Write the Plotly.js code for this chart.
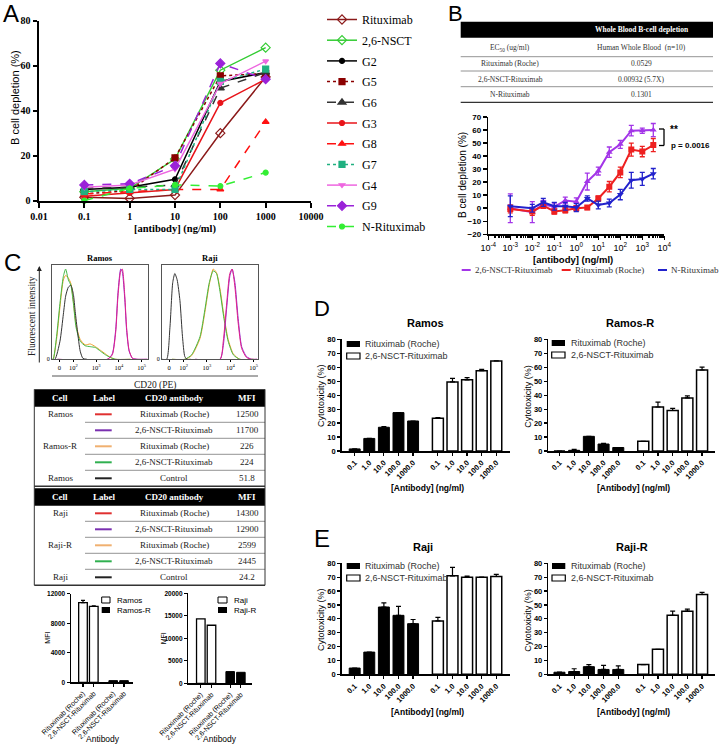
<!DOCTYPE html>
<html><head><meta charset="utf-8">
<script src="https://cdn.plot.ly/plotly-3.0.1.min.js"></script>
<style>html,body{margin:0;padding:0;background:#fff}#chart{width:722px;height:746px}</style>
</head><body><div id="chart"></div>
<script>
// ================= DATA =================
// Panel A
const aDoses = [0.1, 1, 10, 100, 1000];
const aTickVals = [0.01, 0.1, 1, 10, 100, 1000, 10000];
const aTickText = ['0.01', '0.1', '1', '10', '100', '1000', '10000'];
const aNames = ['Rituximab', '2,6-NSCT', 'G2', 'G5', 'G6', 'G3', 'G8', 'G7', 'G4', 'G9', 'N-Rituximab'];
const aRituximab = [1.5, 1, 2.5, 30, 55];
const aNSCT = [4, 5.5, 18.5, 58, 68];
const aG2 = [5, 6, 9.5, 53, 57];
const aG5 = [3, 4.5, 19, 55.5, 56.5];
const aG6 = [5.5, 6, 7, 50, 57];
const aG3 = [2, 3.5, 5, 43.5, 54];
const aG8 = [3, 4, 5, 5, 35];
const aG7 = [4, 5, 5, 53, 58.5];
const aG4 = [6, 7, 14, 52, 62];
const aG9 = [7, 7.5, 15.5, 61, 54];
const aNRituximab = [0, 5.5, 7, 6.5, 12.5];

// Panel B
const bDoses = [0.001, 0.01, 0.0316, 0.1, 0.316, 1, 3.16, 10, 31.6, 100, 316, 1000, 3162];
const bTickVals = [1e-4, 1e-3, 1e-2, 1e-1, 1, 10, 100, 1000, 10000];
const bTickText = ['10<sup>-4</sup>', '10<sup>-3</sup>', '10<sup>-2</sup>', '10<sup>-1</sup>', '10<sup>0</sup>', '10<sup>1</sup>', '10<sup>2</sup>', '10<sup>3</sup>', '10<sup>4</sup>'];
const bNames = ['2,6-NSCT-Rituximab', 'Rituximab (Roche)', 'N-Rituximab'];
const bNSCT = [0, -3, 3, 1, 6, 5, 20.5, 28.5, 43, 49, 59.5, 59.5, 60];
const bNSCTErr = [11, 8, 3, 3, 2.5, 3, 6.5, 3, 4, 3, 4, 2, 5];
const bRoche = [-0.5, -2.5, 2, -2.5, -1.5, 0, 0.5, 7.5, 16.5, 27.5, 45, 43.5, 48.5];
const bRocheErr = [3, 3, 2, 2, 2, 2, 1.5, 2, 4, 4, 5, 4, 5];
const bNRit = [1.5, 0, 4.5, 1.5, 1.5, 0.5, 7.5, 2.5, 4, 10.5, 21.5, 22.5, 26.5];
const bNRitErr = [8, 3, 3, 3, 3, 3, 2, 3, 3, 4, 6, 5, 4];
const bTableHeader = 'Whole Blood B-cell depletion';
const bTableSub = ['EC<sub>50</sub> (ug/ml)', 'Human Whole Blood  (n=10)'];
const bTableRows = ['Rituximab (Roche)', '2,6-NSCT-Rituximab', 'N-Rituximab'];
const bTableEC50 = ['0.0529', '0.00932 (5.7X)', '0.1301'];

// Panel C histograms (x in display decades, y in % of max)
const histTickVals = [1.38, 2, 3, 4, 5];
const histTickText = ['0', '10<sup>2</sup>', '10<sup>3</sup>', '10<sup>4</sup>', '10<sup>5</sup>'];
const ramosCtrlX = [1.05, 1.19, 1.41, 1.56, 1.66, 1.78, 1.89, 2.0, 2.08, 2.18, 2.3, 2.42, 2.6];
const ramosCtrlY = [0, 0, 20, 50, 70, 80, 82, 72, 53, 31, 9, 1, 0];
const ramosResX = [1.05, 1.11, 1.26, 1.41, 1.56, 1.66, 1.78, 1.89, 2.0, 2.12, 2.3, 2.52, 2.74, 2.97, 3.19, 3.41, 3.63, 3.86, 4.5];
const ramosResNsctY = [0, 0, 25, 62, 92, 100, 88, 82, 62, 35, 20, 15, 14, 13, 9, 5, 2, 0, 0];
const ramosResRocheY = [0, 0, 22, 58, 88, 93, 90, 84, 64, 38, 22, 16, 17, 14, 10, 6, 2, 0, 0];
const ramosX = [1.3, 3.49, 3.71, 3.86, 3.96, 4.08, 4.15, 4.26, 4.34, 4.45, 4.6, 4.82, 5.25];
const ramosRocheY = [0, 0, 5, 30, 70, 98, 100, 70, 35, 10, 1, 0, 0];
const ramosNsctY = [0, 0, 6, 33, 74, 100, 97, 66, 32, 9, 1, 0, 0];
const rajiCtrlX = [1.07, 1.27, 1.41, 1.53, 1.62, 1.72, 1.84, 1.95, 2.05, 2.15, 2.3];
const rajiCtrlY = [0, 0, 35, 85, 95, 88, 65, 25, 3, 0, 0];
const rajiResX = [1.5, 2.05, 2.34, 2.7, 2.91, 3.1, 3.27, 3.41, 3.56, 3.73, 3.91, 4.13, 4.41, 5.0];
const rajiResNsctY = [0, 0, 5, 25, 55, 85, 98, 95, 75, 45, 20, 5, 0, 0];
const rajiResRocheY = [0, 0, 4, 23, 52, 83, 100, 96, 78, 48, 22, 6, 0, 0];
const rajiX = [2.5, 3.56, 3.7, 3.84, 3.98, 4.08, 4.2, 4.34, 4.49, 4.7, 4.92, 5.15];
const rajiRocheY = [0, 0, 20, 60, 95, 100, 80, 40, 12, 2, 0, 0];
const rajiNsctY = [0, 0, 15, 55, 92, 100, 85, 45, 14, 3, 0, 0];

// Panel C tables
const cTableHeader = ['Cell', 'Label', 'CD20 antibody', 'MFI'];
const cTable1Cell = ['Ramos', '', 'Ramos-R', '', 'Ramos'];
const cTable2Cell = ['Raji', '', 'Raji-R', '', 'Raji'];
const cAntibody = ['Rituximab (Roche)', '2,6-NSCT-Rituximab', 'Rituximab (Roche)', '2,6-NSCT-Rituximab', 'Control'];
const cTable1MFI = ['12500', '11700', '226', '224', '51.8'];
const cTable2MFI = ['14300', '12900', '2599', '2445', '24.2'];

// Panel C MFI bars
const cBarLabels = ['Rituximab (Roche)', '2,6-NSCT-Rituximab', 'Rituximab (Roche)', '2,6-NSCT-Rituximab'];
const mfiRamos = [10800, 10300];
const mfiRamosErr = [300, 80];
const mfiRamosR = [226, 224];
const mfiRaji = [14300, 12900];
const mfiRajiR = [2599, 2445];
const mfiTicksL = [0, 4000, 8000, 12000];
const mfiTicksR = [0, 5000, 10000, 15000, 20000];

// Panels D/E cytotoxicity
const cytoDoses = ['0.1', '1.0', '10.0', '100.0', '1000.0'];
const cytoSeries = ['Rituximab (Roche)', '2,6-NSCT-Rituximab'];
const ramosRoche = [1.5, 9, 17, 27.5, 21.5];
const ramosRocheErr = [0, 0, 0.5, 0, 0];
const ramosNsct = [23.5, 49.5, 51, 57.5, 64.5];
const ramosNsctErr = [0.5, 2.5, 1.5, 1, 0];
const ramosRRoche = [0, 0.5, 10.5, 5, 2.5];
const ramosRRocheErr = [0, 0.7, 0, 0.5, 0];
const ramosRNsct = [7, 31.5, 29, 38, 58];
const ramosRNsctErr = [0, 3.5, 1.5, 1.5, 2];
const rajiRoche = [4.5, 16, 48.5, 42.5, 36.5];
const rajiRocheErr = [0, 0, 3, 6.5, 3];
const rajiNsct = [38.5, 71, 70, 70, 70.5];
const rajiNsctErr = [2.5, 6, 0.7, 0, 1.5];
const rajiRRoche = [1.5, 2, 5.5, 3.5, 3.5];
const rajiRRocheErr = [0, 2, 1.5, 3, 2.5];
const rajiRNsct = [7, 18, 42.5, 45.5, 57.5];
const rajiRNsctErr = [0, 0, 3, 1.5, 1.5];

// ================= LAYOUT HELPERS =================
const SERIF = 'Liberation Serif, Times New Roman, serif';
const SANS = 'Liberation Sans, Arial, sans-serif';
const W = 722, H = 746;
const fx = p => p / W;
const fy = p => 1 - p / H;
const annotations = [];
const shapes = [];
function T(text, x, y, size, o = {}) {
  annotations.push({
    text, x: fx(x), y: fy(y), xref: 'paper', yref: 'paper', showarrow: false,
    xanchor: o.xanchor || 'center', yanchor: 'middle', textangle: o.angle || 0,
    font: { family: o.family || SANS, size, color: o.color || '#000', weight: o.weight || 'normal' }
  });
}
function L(x0, y0, x1, y1, color, width) {
  shapes.push({ type: 'line', xref: 'paper', yref: 'paper', x0: fx(x0), y0: fy(y0), x1: fx(x1), y1: fy(y1), line: { color, width } });
}
function R(x0, y0, x1, y1, fill, lc, lw) {
  shapes.push({ type: 'rect', xref: 'paper', yref: 'paper', x0: fx(x0), y0: fy(y0), x1: fx(x1), y1: fy(y1), fillcolor: fill, line: { color: lc || fill, width: lw || 0 } });
}
const zeros = n => new Array(n).fill(0);

// ================= TRACES =================
const data = [];
// Panel A
const aSeries = [aRituximab, aNSCT, aG2, aG5, aG6, aG3, aG8, aG7, aG4, aG9, aNRituximab];
const aStyle = [
  { c: '#8b1a1a', s: 'diamond-open', d: 'solid', z: 7 },
  { c: '#33cc33', s: 'diamond-open', d: 'solid', z: 7 },
  { c: '#000000', s: 'circle', d: 'solid', z: 5 },
  { c: '#8b0000', s: 'square', d: 'dot', z: 6 },
  { c: '#333333', s: 'triangle-up', d: 'dash', z: 7 },
  { c: '#e8141a', s: 'circle', d: 'solid', z: 5 },
  { c: '#ff1010', s: 'triangle-up', d: 'dash', z: 6 },
  { c: '#20b080', s: 'square', d: 'dot', z: 6 },
  { c: '#ee66e0', s: 'triangle-down', d: 'solid', z: 5 },
  { c: '#9a22d8', s: 'diamond', d: 'dash', z: 7 },
  { c: '#33ee33', s: 'circle', d: 'dash', z: 5 }
];
aSeries.forEach((ys, i) => {
  const st = aStyle[i];
  data.push({
    type: 'scatter', mode: 'lines+markers', name: aNames[i], x: aDoses, y: ys, xaxis: 'x', yaxis: 'y',
    legendgroup: 'g' + i, cliponaxis: false,
    line: { color: st.c, width: 1.5, dash: st.d },
    marker: { color: st.c, symbol: st.s, size: st.z, line: { color: st.c, width: 1.2 } }
  });
});
// Panel B
const bSeries = [[bNSCT, bNSCTErr, '#a335e8', 'triangle-up'], [bRoche, bRocheErr, '#ee2020', 'square'], [bNRit, bNRitErr, '#2222cc', 'triangle-down']];
bSeries.forEach((s, i) => {
  data.push({
    type: 'scatter', mode: 'lines+markers', name: bNames[i], x: bDoses, y: s[0], xaxis: 'x2', yaxis: 'y2', showlegend: false,
    line: { color: s[2], width: 2 }, marker: { color: s[2], symbol: s[3], size: 6 },
    error_y: { type: 'data', array: s[1], color: s[2], thickness: 1.3, width: 2.5 }
  });
});
// Panel C histograms
function hist(x, y, color, ax) {
  data.push({ type: 'scatter', mode: 'lines', x, y, xaxis: 'x' + ax, yaxis: 'y' + ax, showlegend: false,
    line: { color, width: 1, shape: 'spline', smoothing: 0.6 } });
}
hist(ramosResX, ramosResRocheY, '#f0a030', 3);
hist(ramosResX, ramosResNsctY, '#44b844', 3);
hist(ramosCtrlX, ramosCtrlY, '#333333', 3);
hist(ramosX, ramosNsctY, '#9030d0', 3);
hist(ramosX, ramosRocheY, '#e0208a', 3);
hist(rajiResX, rajiResRocheY, '#f0a030', 4);
hist(rajiResX, rajiResNsctY, '#44b844', 4);
hist(rajiCtrlX, rajiCtrlY, '#333333', 4);
hist(rajiX, rajiNsctY, '#9030d0', 4);
hist(rajiX, rajiRocheY, '#e0208a', 4);
// Panel C MFI bars
const mfiPosL = [0, 1, 2.8, 3.8];
const mfiPosR = [0, 1, 2.75, 3.75];
data.push({ type: 'bar', x: mfiPosL.slice(0, 2), y: mfiRamos, xaxis: 'x5', yaxis: 'y5', width: 0.8, showlegend: false,
  marker: { color: '#fff', line: { color: '#000', width: 1.3 } },
  error_y: { type: 'data', symmetric: false, array: mfiRamosErr, arrayminus: zeros(2), color: '#000', thickness: 1.2, width: 2 } });
data.push({ type: 'bar', x: mfiPosL.slice(2), y: mfiRamosR, xaxis: 'x5', yaxis: 'y5', width: 0.8, showlegend: false,
  marker: { color: '#000', line: { color: '#000', width: 1 } } });
data.push({ type: 'bar', x: mfiPosR.slice(0, 2), y: mfiRaji, xaxis: 'x6', yaxis: 'y6', width: 0.8, showlegend: false,
  marker: { color: '#fff', line: { color: '#000', width: 1.3 } } });
data.push({ type: 'bar', x: mfiPosR.slice(2), y: mfiRajiR, xaxis: 'x6', yaxis: 'y6', width: 0.8, showlegend: false,
  marker: { color: '#000', line: { color: '#000', width: 1 } } });
// Panels D/E
const blackX = cytoDoses.map((_, i) => i);
const whiteX = cytoDoses.map((_, i) => i + 5.7);
function cyto(ax, blackY, blackE, whiteY, whiteE) {
  data.push({ type: 'bar', name: cytoSeries[0], x: blackX, y: blackY, xaxis: 'x' + ax, yaxis: 'y' + ax, width: 0.75, showlegend: false,
    marker: { color: '#000', line: { color: '#000', width: 1 } },
    error_y: { type: 'data', symmetric: false, array: blackE, arrayminus: zeros(5), color: '#000', thickness: 1.2, width: 2.5 } });
  data.push({ type: 'bar', name: cytoSeries[1], x: whiteX, y: whiteY, xaxis: 'x' + ax, yaxis: 'y' + ax, width: 0.75, showlegend: false,
    marker: { color: '#fff', line: { color: '#000', width: 1.5 } },
    error_y: { type: 'data', symmetric: false, array: whiteE, arrayminus: zeros(5), color: '#000', thickness: 1.2, width: 2.5 } });
}
cyto(7, ramosRoche, ramosRocheErr, ramosNsct, ramosNsctErr);
cyto(8, ramosRRoche, ramosRRocheErr, ramosRNsct, ramosRNsctErr);
cyto(9, rajiRoche, rajiRocheErr, rajiNsct, rajiNsctErr);
cyto(10, rajiRRoche, rajiRRocheErr, rajiRNsct, rajiRNsctErr);

// ================= AXES =================
const base = { showgrid: false, zeroline: false, showline: true, linecolor: '#000', ticks: 'outside', tickcolor: '#000', automargin: false, fixedrange: true };
const layout = {
  width: W, height: H, margin: { l: 0, r: 0, t: 0, b: 0, pad: 0 },
  font: { family: SANS, color: '#000' },
  paper_bgcolor: '#fff', plot_bgcolor: 'rgba(0,0,0,0)', barmode: 'overlay', showlegend: true,
  legend: { x: fx(322), y: fy(5), xanchor: 'left', yanchor: 'top', font: { family: SERIF, size: 12, color: '#000' },
    tracegroupgap: 1.7, itemwidth: 30, bgcolor: 'rgba(0,0,0,0)', borderwidth: 0 },
  xaxis: Object.assign({}, base, { domain: [fx(39), fx(311)], anchor: 'y', type: 'log', range: [-2, 4], tickvals: aTickVals, ticktext: aTickText,
    linewidth: 2.5, tickwidth: 2, ticklen: 5, tickfont: { family: SERIF, size: 10, weight: 'bold', color: '#000' } }),
  yaxis: Object.assign({}, base, { domain: [fy(200.7), fy(20.7)], anchor: 'x', range: [0, 80], tickvals: [0, 20, 40, 60, 80],
    linewidth: 2.5, tickwidth: 2, ticklen: 4, tickfont: { family: SERIF, size: 10, weight: 'bold', color: '#000' } }),
  xaxis2: Object.assign({}, base, { domain: [fx(488.3), fx(664.3)], anchor: 'y2', type: 'log', range: [-4, 4], tickvals: bTickVals, ticktext: bTickText,
    linewidth: 1.5, tickwidth: 1.5, ticklen: 4, tickfont: { family: SANS, size: 9, color: '#000' },
    minor: { ticks: 'outside', ticklen: 2, tickcolor: '#000', dtick: 'D1', showgrid: false } }),
  yaxis2: Object.assign({}, base, { domain: [fy(234.3), fy(117)], anchor: 'x2', range: [-20, 70], dtick: 10,
    linewidth: 1.5, tickwidth: 1.5, ticklen: 4, tickfont: { family: SANS, size: 8, weight: 'bold', color: '#000' } }),
  xaxis3: Object.assign({}, base, { domain: [fx(52), fx(148)], anchor: 'y3', range: [1.06, 5.28], tickvals: histTickVals, ticktext: histTickText,
    mirror: true, linecolor: '#555', linewidth: 1, tickwidth: 1, ticklen: 2, tickfont: { family: SERIF, size: 6.5, color: '#000' } }),
  yaxis3: Object.assign({}, base, { domain: [fy(359.3), fy(265)], anchor: 'x3', range: [0, 104.5], tickvals: [0], ticktext: ['0'],
    mirror: true, linecolor: '#555', linewidth: 1, ticks: '', tickfont: { family: SERIF, size: 6, color: '#000' } }),
  xaxis4: Object.assign({}, base, { domain: [fx(162), fx(258)], anchor: 'y4', range: [1.07, 5.19], tickvals: histTickVals, ticktext: histTickText,
    mirror: true, linecolor: '#555', linewidth: 1, tickwidth: 1, ticklen: 2, tickfont: { family: SERIF, size: 6.5, color: '#000' } }),
  yaxis4: Object.assign({}, base, { domain: [fy(359.3), fy(265)], anchor: 'x4', range: [0, 104.5], tickvals: [0], ticktext: ['0'],
    mirror: true, linecolor: '#555', linewidth: 1, ticks: '', tickfont: { family: SERIF, size: 6, color: '#000' } }),
  xaxis5: Object.assign({}, base, { domain: [fx(71), fx(133.3)], anchor: 'y5', range: [-1.11, 4.66], tickvals: mfiPosL, ticktext: cBarLabels, tickangle: -45,
    linewidth: 1.5, tickwidth: 1.2, ticklen: 3, tickfont: { family: SANS, size: 7, color: '#000' } }),
  yaxis5: Object.assign({}, base, { domain: [fy(682.3), fy(593.8)], anchor: 'x5', range: [0, 12000], tickvals: mfiTicksL, ticktext: mfiTicksL.map(String),
    linewidth: 1.5, tickwidth: 1.2, ticklen: 3, tickfont: { family: SANS, size: 6.5, weight: 'bold', color: '#000' } }),
  xaxis6: Object.assign({}, base, { domain: [fx(188.3), fx(252)], anchor: 'y6', range: [-1.17, 4.79], tickvals: mfiPosR, ticktext: cBarLabels, tickangle: -45,
    linewidth: 1.5, tickwidth: 1.2, ticklen: 3, tickfont: { family: SANS, size: 7, color: '#000' } }),
  yaxis6: Object.assign({}, base, { domain: [fy(683.3), fy(593.3)], anchor: 'x6', range: [0, 20000], tickvals: mfiTicksR, ticktext: mfiTicksR.map(String),
    linewidth: 1.5, tickwidth: 1.2, ticklen: 3, tickfont: { family: SANS, size: 6.5, weight: 'bold', color: '#000' } }),
  shapes, annotations
};
const cytoTickVals = blackX.concat(whiteX);
const cytoTickText = cytoDoses.concat(cytoDoses);
function cytoAxes(n, x0, x1, y0, y1, r0, r1) {
  layout['xaxis' + n] = Object.assign({}, base, { domain: [fx(x0), fx(x1)], anchor: 'y' + n, range: [r0, r1], tickvals: cytoTickVals, ticktext: cytoTickText,
    tickangle: -45, linewidth: 1.5, tickwidth: 1.2, ticklen: 3, tickfont: { family: SANS, size: 7.5, weight: 'bold', color: '#000' } });
  layout['yaxis' + n] = Object.assign({}, base, { domain: [fy(y0), fy(y1)], anchor: 'x' + n, range: [0, 80], dtick: 10,
    linewidth: 1.5, tickwidth: 1.2, ticklen: 3, tickfont: { family: SANS, size: 7.5, weight: 'bold', color: '#000' } });
}
cytoAxes(7, 341.7, 510, 451, 339.3, -0.89, 10.64);
cytoAxes(8, 548.3, 715, 451, 339.3, -0.76, 10.58);
cytoAxes(9, 341.7, 510, 674.3, 563.3, -0.89, 10.64);
cytoAxes(10, 548.3, 715, 674.3, 563.3, -0.76, 10.58);

// ================= TEXT & DECORATION =================
// Panel letters
T('A', 11, 13, 24); T('B', 455, 13, 22); T('C', 12, 262, 24); T('D', 322, 308, 22); T('E', 322, 538, 24);
// Panel A titles
T('B cell depletion (%)', 15, 98, 11, { angle: -90 });
T('[antibody] (ng/ml)', 175, 229, 10.5, { family: SERIF, weight: 'bold' });
// Panel B table
R(460.7, 21.7, 713, 37.7, '#000');
T(bTableHeader, 641.7, 29.7, 7.5, { family: SERIF, weight: 'bold', color: '#fff' });
T(bTableSub[0], 510, 47.7, 7.5, { family: SERIF, color: '#333' });
T(bTableSub[1], 641.7, 47.7, 7.5, { family: SERIF, color: '#333' });
[56.7, 71, 86.7].forEach(y => L(460.7, y, 713, y, '#777', 0.8));
L(460.7, 102.3, 713, 102.3, '#333', 1.2);
bTableRows.forEach((r, i) => {
  T(r, 510, 63.6 + 15.6 * i, 7.5, { family: SERIF, color: '#333' });
  T(bTableEC50[i], 641.7, 63.6 + 15.6 * i, 7.5, { family: SERIF, color: '#333' });
});
// Panel B chart text
T('B cell depletion (%)', 462, 175, 10, { angle: -90 });
T('[antibody] (ng/ml)', 573, 259, 9.5, { weight: 'bold' });
L(659, 129, 664, 129, '#000', 1.3); L(664, 129, 664, 145.5, '#000', 1.3); L(659, 145.5, 664, 145.5, '#000', 1.3);
T('**', 673.5, 129, 10, { weight: 'bold' });
T('p = 0.0016', 669, 145, 8, { weight: 'bold', xanchor: 'left' });
const bLegendColors = ['#a335e8', '#ee2020', '#2222cc'];
const bLegendX = [461.7, 561.7, 658];
bNames.forEach((n, i) => {
  L(bLegendX[i], 270, bLegendX[i] + 9, 270, bLegendColors[i], 2);
  T(n, bLegendX[i] + 11, 270, 9, { family: SERIF, color: '#333', xanchor: 'left' });
});
// Panel C histograms text
T('Ramos', 100, 258, 8.5, { family: SERIF, weight: 'bold' });
T('Raji', 210, 258, 8.5, { family: SERIF, weight: 'bold' });
T('Fluorescent intensity', 32, 316, 9.5, { family: SERIF, angle: -90, color: '#222' });
annotations.push({ text: '', x: fx(39.3), y: fy(266), xref: 'paper', yref: 'paper', showarrow: true, ax: 0, ay: 98,
  arrowhead: 2, arrowsize: 1, arrowwidth: 1, arrowcolor: '#222' });
L(52, 376, 258, 376, '#555', 1);
T('CD20 (PE)', 155, 385, 9.5, { family: SERIF, color: '#222' });
// Panel C tables
const labelColors = ['#e03030', '#7a30b0', '#f0b070', '#30b050', '#222'];
const colX = [60, 104, 174, 247];
function cTable(top, cells, mfi) {
  R(34.3, top, 265, top + 17.4, '#000');
  cTableHeader.forEach((h, j) => T(h, colX[j], top + 9, 9, { family: SERIF, weight: 'bold', color: '#fff' }));
  for (let i = 0; i < 5; i++) {
    const y = top + 25 + 16 * i;
    if (cells[i]) T(cells[i], colX[0], y, 9, { family: SERIF, color: '#222' });
    L(95, y, 111.7, y, labelColors[i], 2);
    T(cAntibody[i], colX[2], y, 9, { family: SERIF, color: '#222' });
    T(mfi[i], colX[3], y, 9, { family: SERIF, color: '#222' });
    if (i < 4) L(85, y + 8, 265, y + 8, '#777', 0.8);
  }
  L(34.3, top + 97, 265, top + 97, '#333', 1.5);
}
cTable(389.3, cTable1Cell, cTable1MFI);
cTable(488.3, cTable2Cell, cTable2MFI);
L(34.3, 389.3, 34.3, 585.3, '#333', 1); L(265, 389.3, 265, 585.3, '#333', 1);
// Panel C MFI bar chart text
R(101.7, 597, 110, 603, '#fff', '#000', 1); T('Ramos', 115, 600, 8, { xanchor: 'left' });
R(101.7, 607, 110, 613, '#000'); T('Ramos-R', 115, 610, 8, { xanchor: 'left' });
R(218, 597, 227, 603, '#fff', '#000', 1); T('Raji', 232, 600, 8, { xanchor: 'left' });
R(218, 607, 227, 613, '#000'); T('Raji-R', 232, 610, 8, { xanchor: 'left' });
T('MFI', 46.7, 638, 7, { angle: -90 }); T('MFI', 163.3, 638, 7, { angle: -90 });
T('Antibody', 103.3, 739, 8.5); T('Antibody', 220, 739, 8.5);
// Panels D/E text
function cytoText(title, tx, ty, ytx, yty, xtx, xty, lbx, lty, ltx) {
  T(title, tx, ty, 11, { weight: 'bold' });
  T('Cytotoxicity (%)', ytx, yty, 9, { angle: -90 });
  T('[Antibody] (ng/ml)', xtx, xty, 8.5, { weight: 'bold' });
  R(lbx, lty - 3, lbx + 13.3, lty + 3, '#000');
  T(cytoSeries[0], ltx, lty, 9, { xanchor: 'left', color: '#333' });
  R(lbx, lty + 9, lbx + 13.3, lty + 15, '#fff', '#000', 1.2);
  T(cytoSeries[1], ltx, lty + 12, 9, { xanchor: 'left', color: '#333' });
}
cytoText('Ramos', 425, 323.3, 321, 396, 427, 488.3, 346.7, 344, 363);
cytoText('Ramos-R', 630, 323.3, 527.7, 396, 633.3, 487.7, 551.7, 343, 569);
cytoText('Raji', 423.3, 546.7, 321, 620, 427, 711.7, 346.7, 566, 363);
cytoText('Raji-R', 631.7, 546.7, 527.7, 620, 633.3, 711.7, 552, 566, 569);

Plotly.newPlot('chart', data, layout, { staticPlot: true, displayModeBar: false });
</script>
</body></html>
